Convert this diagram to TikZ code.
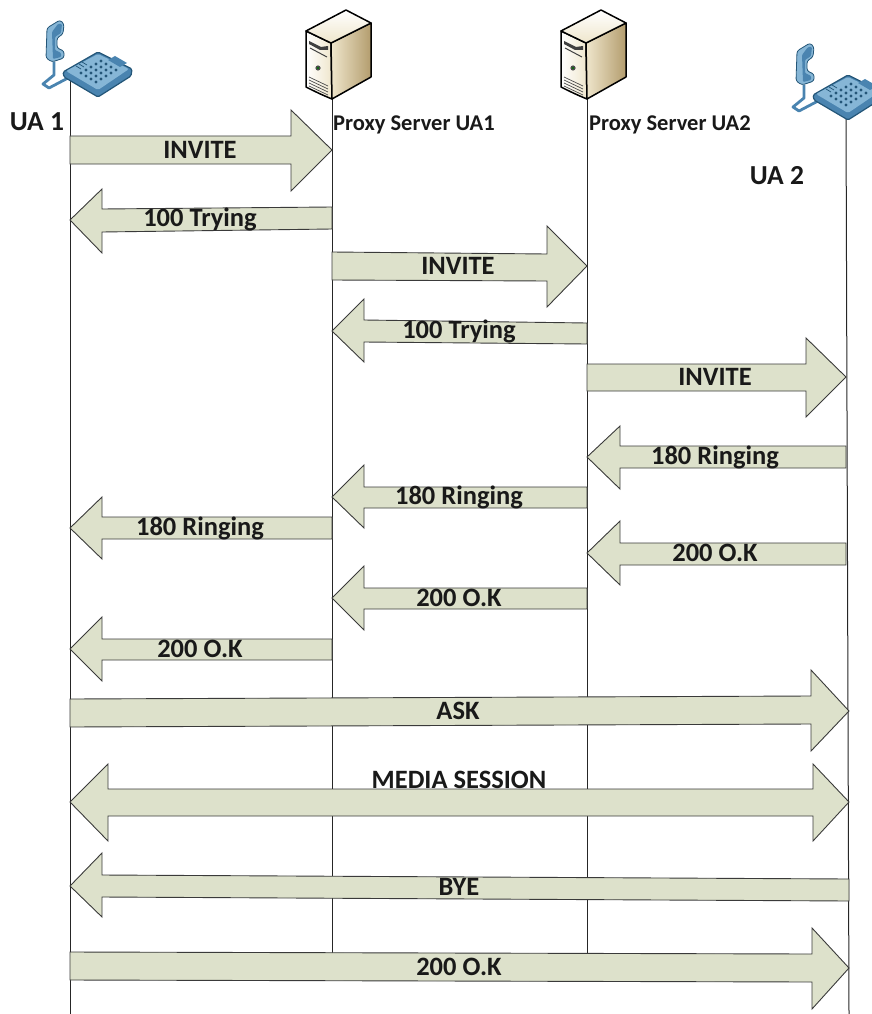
\documentclass[tikz,border=0pt]{standalone}
\usepackage{fontspec}
\setmainfont{Carlito}
\usetikzlibrary{calc}
\definecolor{arrowfill}{HTML}{DDE1CB}
\definecolor{arrowline}{HTML}{3A3A3A}
\definecolor{phoneA}{HTML}{4A84B0}
\definecolor{phoneB}{HTML}{86B6D6}
\definecolor{phoneC}{HTML}{245678}
\definecolor{caseA}{HTML}{EFE6CC}
\definecolor{caseB}{HTML}{B39D6E}
\tikzset{
 serverbox/.pic={
  \path[left color=white,right color=caseA,draw=black,line width=1.5pt,line join=round]
   (-26,-68) -- (-1,-56) -- (0,0) .. controls (-10,-4) and (-18,-8) .. (-26,-12) -- cycle;
  \path[left color=caseA,right color=caseB,draw=black,line width=1.5pt,line join=round]
   (-1,-56) -- (39,-76) -- (39,-22) -- (0,0) -- cycle;
  \path[top color=white,bottom color=caseA,draw=black,line width=1.5pt,line join=round]
   (-26,-68) -- (14,-89) -- (39,-76) -- (-1,-56) -- cycle;
  \fill[black!75] (-23,-58) -- (-11,-52) -- (-4,-53) -- (-4,-49) -- (-12,-49) -- (-23,-55) -- cycle;
  \draw[black!75,line width=1pt] (-22,-51) -- (-5,-42);
  \fill[black!70] (-14,-31) circle (2.6);
  \fill[green!45!black] (-14,-31) circle (1.1);
  \foreach \k in {0,3,6,9} {\draw[black!70,line width=.7pt] (-23,{-22+\k}) -- (-4,{-13+\k});}
 },
 deskphone/.pic={
  % cord
  \draw[phoneA,line width=2.8pt,line join=round] (54,62) -- (54,75) -- (43,84) -- (49,88) -- (68,78);
  % handset
  \draw[phoneC,line width=.8pt,fill=phoneB,rounded corners=2.5pt]
   (47,28) -- (60,20) -- (64,24) -- (63,34) -- (57,38) -- (57,48) -- (64,51) -- (64,58) -- (52,62) -- (46,58) -- cycle;
  \fill[phoneA,rounded corners=1pt] (58,24) -- (62,24) -- (61,33) -- (55,37) -- (55,50) -- (61,53) -- (61,57) -- (53,59) -- (52,32) -- cycle;
  % base
  \draw[phoneC,line width=1.2pt,fill=phoneA,line join=round,rounded corners=1.5pt]
   (63,72) -- (98,52) -- (132,69) -- (131,76) -- (98,97) -- (64,77) -- cycle;
  \fill[phoneB,rounded corners=1.5pt] (66,71) -- (98,54) -- (129,69) -- (98,90) -- cycle;
  \fill[phoneA] (108,60) -- (115,56) -- (127,63) -- (120,67) -- cycle;
  \foreach \r in {0,1,2,3} {\foreach \c in {0,1,2,3,4}
   {\fill[phoneC] ({81+\c*5+\r*5},{73-\c*3+\r*3}) circle (1.7);}}
  \foreach \c in {0,1,2} {\draw[phoneC,line width=.7pt] ({76+\c*3},{66-\c*2}) -- ({81+\c*3},{69-\c*2});}
 },
 msgarrow/.style={draw=arrowline,fill=arrowfill,line width=.9pt,line join=miter},
 msglabel/.style={font=\fontsize{26.5}{30}\selectfont\bfseries,inner sep=0pt,text=black!90},
 lifeline/.style={draw=black!85,line width=1pt},
 headlabel/.style={font=\fontsize{22.5}{26}\selectfont\bfseries,inner sep=0pt,anchor=west,text=black!90},
 ualabel/.style={font=\fontsize{27.5}{30}\selectfont\bfseries,inner sep=0pt,text=black!90}
}
\begin{document}
\begin{tikzpicture}[x=1pt,y=-1pt]
\useasboundingbox (0,0) rectangle (872,1014);
% lifelines
\coordinate (ua1) at (70,80);
\coordinate (ua1end) at (70,1014);
\coordinate (pa) at (332,99);
\coordinate (paend) at (332,953);
\coordinate (pb) at (587,99);
\coordinate (pbend) at (587,953);
\coordinate (ua2) at (846,115);
\coordinate (ua2end) at (849,1014);
\draw[lifeline] (ua1) -- (ua1end);
\draw[lifeline] (pa) -- (paend);
\draw[lifeline] (pb) -- (pbend);
\draw[lifeline] (ua2) -- (ua2end);
\pic at (0,0) {deskphone};
\pic at (750,23) {deskphone};
\pic at (pa) {serverbox};
\pic at (pb) {serverbox};
\node[ualabel] (ua1name) at (37,122) {UA 1};
\node[ualabel] (ua2name) at (777,176) {UA 2};
\node[headlabel] (paname) at (333,125) {Proxy Server UA1};
\node[headlabel] (pbname) at (589,125) {Proxy Server UA2};
% messages: from/to/head x/shaft at tail/shaft at head/head/tip y/label x,y/text
\foreach \src/\dst/\hx/\sT/\sB/\dT/\dB/\hT/\hB/\tipy/\lx/\ly/\txt [count=\i] in {
 ua1/pa/291/136/164/136/164/110/191/150/200/150/INVITE,
 pa/ua1/102/207/229/209/232/189/253/220/200/219/100 Trying,
 pa/pb/547/252/280/254/281/226/307/266/458/266/INVITE,
 pb/pa/364/323/344/320/342/299/362/331/459/331/100 Trying,
 pb/ua2/806/364/391/364/391/338/417/377/715/377/INVITE,
 ua2/pb/620/446/468/446/468/426/489/457/715/457/180 Ringing,
 pb/pa/364/487/508/487/508/465/528/497/459/497/180 Ringing,
 pa/ua1/102/517/539/517/539/497/559/528/200/528/180 Ringing,
 ua2/pb/620/543/565/543/565/521/585/553/715/553/200 O.K,
 pb/pa/364/588/609/588/609/566/630/598/459/598/200 O.K,
 pa/ua1/102/639/660/639/660/617/681/649/200/649/200 O.K,
 ua1/ua2end/811/699/727/696/724/670/751/711/458/711/ASK,
 ua2end/ua1/102/879/901/875/897/853/917/886/459/887/BYE,
 ua1/ua2end/812/952/980/954/982/928/1009/968/459/967/200 O.K}
{
 \draw[msgarrow] (\src |- 0,\sT) -- (\hx,\dT) -- (\hx,\hT) -- (\dst |- 0,\tipy)
  -- (\hx,\hB) -- (\hx,\dB) -- (\src |- 0,\sB) -- cycle;
 \node[msglabel] (msg\i) at (\lx,\ly) {\txt};
}
% media session, both ways
\draw[msgarrow] (ua1 |- 0,802) -- (108,764) -- (108,789) -- (813,789) -- (813,764) -- (ua2end |- 0,802)
 -- (813,841) -- (813,816) -- (108,816) -- (108,841) -- cycle;
\node[msglabel] (media) at (459,780) {MEDIA SESSION};
\end{tikzpicture}
\end{document}
